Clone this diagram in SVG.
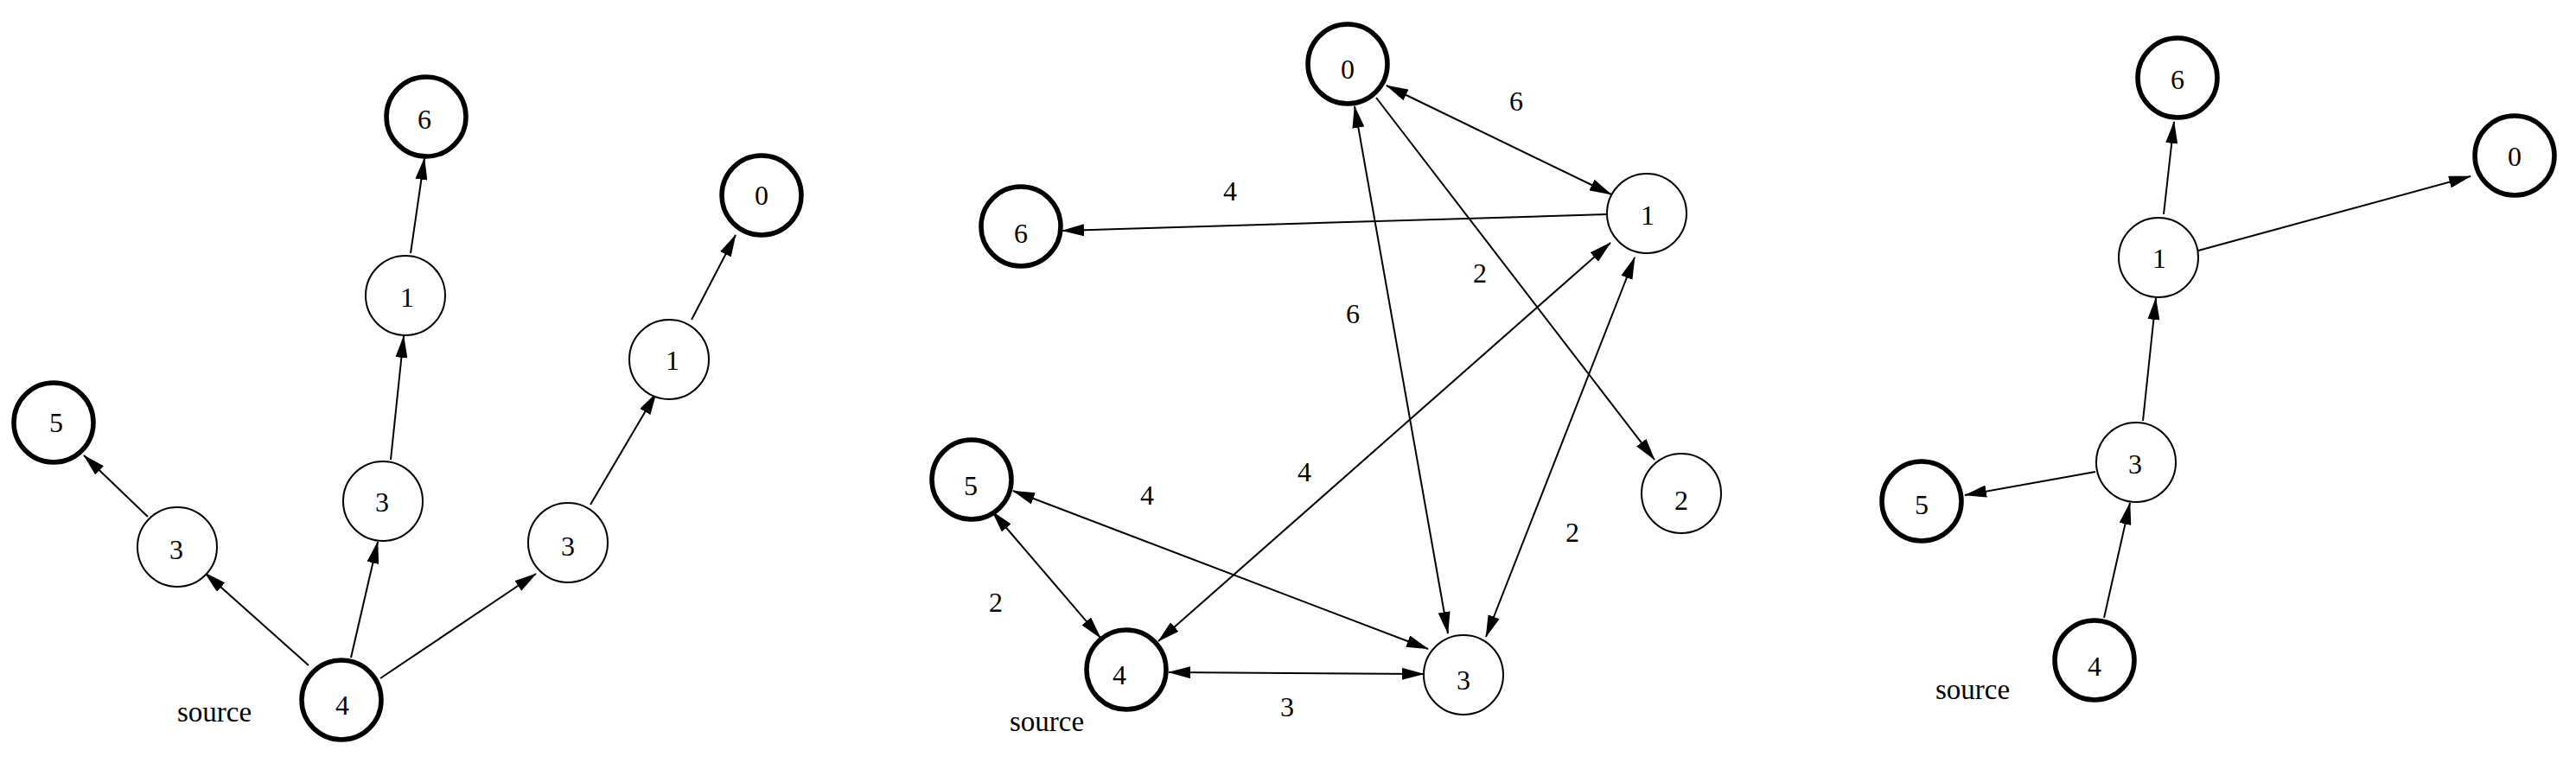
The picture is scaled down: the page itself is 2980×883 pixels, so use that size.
<svg xmlns="http://www.w3.org/2000/svg" width="2980" height="883" viewBox="0 0 2980 883">
<style>
.bg{fill:#fff}
.n{fill:#fff;stroke:#000;stroke-width:2}
.b{fill:#fff;stroke:#000;stroke-width:5.5}
.e{stroke:#000;stroke-width:2;fill:none;marker-end:url(#ah)}
.d{stroke:#000;stroke-width:2;fill:none;marker-end:url(#ah);marker-start:url(#ah)}
text{font-family:"Liberation Serif","Times New Roman",serif;font-size:32px;fill:#000;text-anchor:middle}
.src{font-size:33px;text-anchor:start}
</style>
<defs>
<marker id="ah" markerUnits="userSpaceOnUse" viewBox="0 0 26 14" markerWidth="26" markerHeight="14" refX="25" refY="7" orient="auto-start-reverse">
<path d="M0,0 L26,7 L0,14 z" fill="#000"/>
</marker>
</defs>
<rect class="bg" x="0" y="0" width="2980" height="883"/>

<g id="connectors">
<!-- left tree -->
<line class="e" x1="357" y1="770" x2="237" y2="663"/>
<line class="e" x1="171" y1="598" x2="97" y2="527"/>
<line class="e" x1="406" y1="761" x2="437" y2="627"/>
<line class="e" x1="452" y1="532" x2="467" y2="389"/>
<line class="e" x1="475" y1="293" x2="491" y2="183"/>
<line class="e" x1="440" y1="785" x2="620" y2="664"/>
<line class="e" x1="683" y1="584" x2="759" y2="455"/>
<line class="e" x1="800" y1="370" x2="851" y2="272"/>
<!-- middle graph -->
<line class="d" x1="1604" y1="99" x2="1864" y2="225"/>
<line class="e" x1="1859" y1="248" x2="1229" y2="267"/>
<line class="e" x1="1592" y1="113" x2="1914" y2="532"/>
<line class="d" x1="1567" y1="123" x2="1675" y2="733"/>
<line class="d" x1="1863" y1="281" x2="1340" y2="742"/>
<line class="d" x1="1891" y1="298" x2="1719" y2="737"/>
<line class="d" x1="1172" y1="568" x2="1652" y2="751"/>
<line class="d" x1="1148" y1="592" x2="1273" y2="738"/>
<line class="d" x1="1352" y1="778" x2="1647" y2="780"/>
<!-- right tree -->
<line class="e" x1="2434" y1="715" x2="2464" y2="582"/>
<line class="e" x1="2424" y1="546" x2="2273" y2="573"/>
<line class="e" x1="2479" y1="487" x2="2494" y2="345"/>
<line class="e" x1="2503" y1="248" x2="2515" y2="141"/>
<line class="e" x1="2543" y1="290" x2="2858" y2="204"/>
<!-- edge weights -->
<g id="weights">
<text x="1754" y="128">6</text>
<text x="1423" y="232">4</text>
<text x="1712" y="327">2</text>
<text x="1565" y="374">6</text>
<text x="1509" y="557">4</text>
<text x="1327" y="584">4</text>
<text x="1819" y="627">2</text>
<text x="1152" y="708">2</text>
<text x="1489" y="829">3</text>
</g>
</g>

<!-- left panel nodes -->
<g id="L6"><circle class="b" cx="493" cy="135" r="46"/><text x="491" y="149">6</text></g>
<g id="L0"><circle class="b" cx="881" cy="226" r="46"/><text x="881" y="237">0</text></g>
<g id="L1a"><circle class="n" cx="469" cy="342" r="46"/><text x="471" y="355">1</text></g>
<g id="L1b"><circle class="n" cx="774" cy="416" r="46"/><text x="778" y="428">1</text></g>
<g id="L5"><circle class="b" cx="62" cy="489" r="46"/><text x="65" y="500">5</text></g>
<g id="L3m"><circle class="n" cx="443" cy="580" r="46"/><text x="442" y="592">3</text></g>
<g id="L3l"><circle class="n" cx="205" cy="633" r="46"/><text x="204" y="647">3</text></g>
<g id="L3r"><circle class="n" cx="657" cy="628" r="46"/><text x="657" y="643">3</text></g>
<g id="L4"><circle class="b" cx="395" cy="810" r="46"/><text x="396" y="827">4</text></g>
<text class="src" x="205" y="835">source</text>

<!-- middle panel nodes -->
<g id="M0"><circle class="b" cx="1559" cy="74" r="46"/><text x="1559" y="91">0</text></g>
<g id="M6"><circle class="b" cx="1181" cy="262" r="46"/><text x="1181" y="281">6</text></g>
<g id="M1"><circle class="n" cx="1905" cy="247" r="46"/><text x="1906" y="260">1</text></g>
<g id="M2"><circle class="n" cx="1945" cy="571" r="46"/><text x="1945" y="590">2</text></g>
<g id="M5"><circle class="b" cx="1124" cy="555" r="46"/><text x="1123" y="573">5</text></g>
<g id="M4"><circle class="b" cx="1303" cy="775" r="46"/><text x="1295" y="792">4</text></g>
<g id="M3"><circle class="n" cx="1693" cy="781" r="46"/><text x="1693" y="798">3</text></g>
<text class="src" x="1168" y="846">source</text>

<!-- right panel nodes -->
<g id="R6"><circle class="b" cx="2519" cy="90" r="46"/><text x="2519" y="103">6</text></g>
<g id="R0"><circle class="b" cx="2909" cy="180" r="46"/><text x="2909" y="192">0</text></g>
<g id="R1"><circle class="n" cx="2497" cy="298" r="46"/><text x="2498" y="310">1</text></g>
<g id="R3"><circle class="n" cx="2471" cy="535" r="46"/><text x="2470" y="548">3</text></g>
<g id="R5"><circle class="b" cx="2223" cy="580" r="46"/><text x="2223" y="595">5</text></g>
<g id="R4"><circle class="b" cx="2423" cy="764" r="46"/><text x="2423" y="782">4</text></g>
<text class="src" x="2239" y="809">source</text>
</svg>
